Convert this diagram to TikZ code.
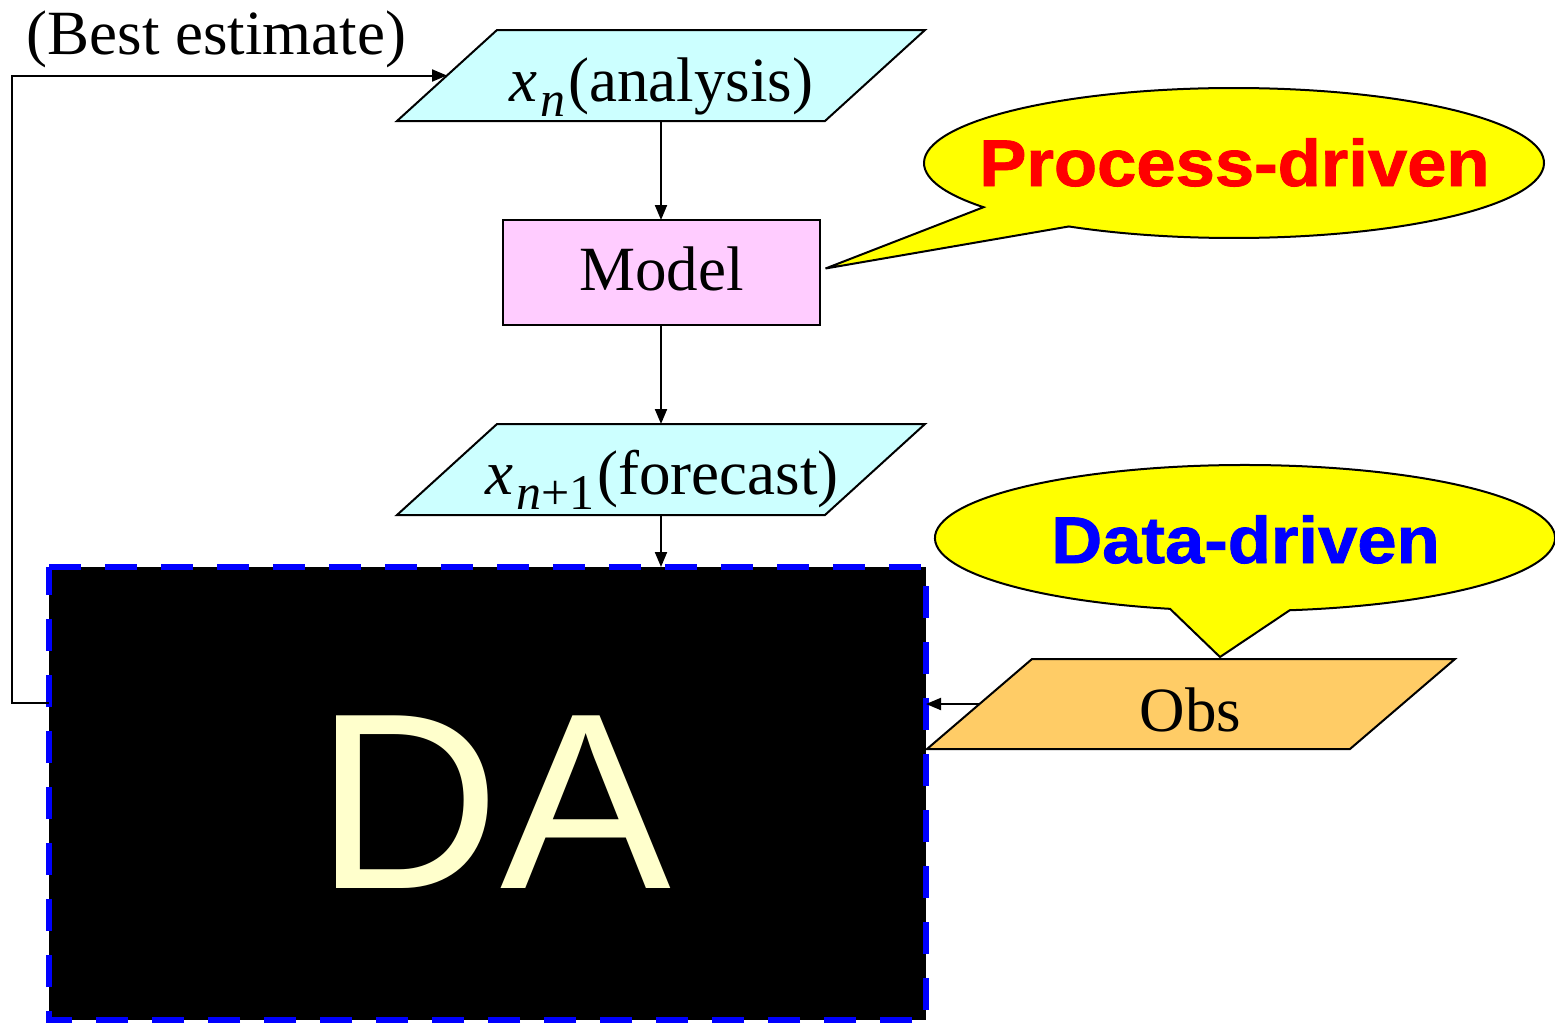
\documentclass[tikz,border=0pt]{standalone}
\usepackage{fontspec}
\usepackage{graphicx}
\setmainfont{Liberation Serif}
\setsansfont{Liberation Sans}
\newfontfamily\heavysans[FakeBold=1.2]{Liberation Sans Bold}
\usetikzlibrary{arrows.meta,calc}

\definecolor{pcyan}{HTML}{CCFFFF}
\definecolor{pmodel}{HTML}{FFCCFF}
\definecolor{pobs}{HTML}{FFCC66}
\definecolor{byellow}{HTML}{FFFF00}
\definecolor{pred}{HTML}{FF0000}
\definecolor{dblue}{HTML}{0000FF}
\definecolor{datext}{HTML}{FFFFCC}

% parallelogram drawn around an empty node: #1 node, #2 half slant, #3 fill
\newcommand\drawpgram[3]{%
  \filldraw[line width=2pt, draw=black, fill=#3, line join=miter]
    ([xshift=#2]#1.north west) -- ([xshift=#2]#1.north east) --
    ([xshift=-#2]#1.south east) -- ([xshift=-#2]#1.south west) -- cycle;}

% italic variable with a lowered index
\newcommand\statevar[1]{{\itshape x}\kern3pt\raisebox{-15pt}{\fontsize{50}{50}\selectfont #1}\kern3pt}

\begin{document}
\begin{tikzpicture}[x=1pt,y=-1pt,
  arr/.style={line width=2pt,-{Triangle[length=15pt,width=12pt]}},
  shapebox/.style={inner sep=0pt, outer sep=0pt},
  serif/.style={inner sep=0pt, anchor=base, font=\fontsize{63}{70}\selectfont},
  bubble/.style={draw=black, line width=2pt, fill=byellow, line join=miter},
  bubbletext/.style={inner sep=0pt, anchor=base, font=\fontsize{66}{70}\selectfont\heavysans},
]
\useasboundingbox (0,0) rectangle (1555,1023);

% data assimilation block
\node[shapebox, minimum width=877pt, minimum height=453pt, fill=black] (da) at (487.5,793.5) {};
\draw[draw=dblue, line width=6pt, dash pattern=on 32pt off 24pt]
  (da.north west) -- (da.north east) -- (da.south east) -- (da.south west) -- cycle;
\node[inner sep=0pt, anchor=base, font=\fontsize{251}{260}\selectfont\sffamily, text=datext] (datxt) at (493,888) {\scalebox{1.02}[1]{DA}};

% state boxes
\node[shapebox, minimum width=428pt, minimum height=91pt] (analysis) at (661,75.5) {};
\drawpgram{analysis}{50pt}{pcyan}
\node[shapebox, draw, line width=2pt, fill=pmodel, minimum width=317pt, minimum height=105pt] (model) at (661,272.5) {};
\node[shapebox, minimum width=428pt, minimum height=91pt] (forecast) at (661,469.5) {};
\drawpgram{forecast}{50pt}{pcyan}
\node[shapebox, minimum width=423pt, minimum height=90pt] (obs) at (1191,704) {};
\drawpgram{obs}{52.5pt}{pobs}

% labels
\node[serif] (best) at (216.5,54) {(Best estimate)};
\node[serif] (antxt) at (661.5,101) {\statevar{\itshape n}(analysis)};
\node[serif] (mtxt) at (661.5,290) {Model};
\node[serif] (ftxt) at (662,494) {\statevar{{\itshape n}+1}(forecast)};
\node[serif] (otxt) at (1190.5,731) {Obs};

% speech bubbles
\draw[bubble] (1234,163) ++(143.9:310 and 75)
  arc[start angle=143.9, end angle=482.2, x radius=310, y radius=75]
  -- ([xshift=6pt,yshift=4pt]model.east) -- cycle;
\node[bubbletext, text=pred] (ptxt) at (1234.5,186) {\scalebox{1.07}[1]{Process-driven}};
\draw[bubble] (1245,538) ++(104:310 and 73)
  arc[start angle=104, end angle=441.7, x radius=310, y radius=73]
  -- ([xshift=29pt,yshift=2pt]obs.north) -- cycle;
\node[bubbletext, text=dblue] (dtxt) at (1245.5,563) {\scalebox{1.07}[1]{Data-driven}};

% connectors
\draw[arr] (analysis.south) -- (model.north);
\draw[arr] (model.south) -- (forecast.north);
\draw[arr] (forecast.south) -- (forecast.south |- da.north);
\draw[arr] ([yshift=90.5pt]da.west) -- ++(-37,0) |- (analysis.west);
\draw[arr] (obs.west) -- (obs.west -| da.east);
\end{tikzpicture}
\end{document}
